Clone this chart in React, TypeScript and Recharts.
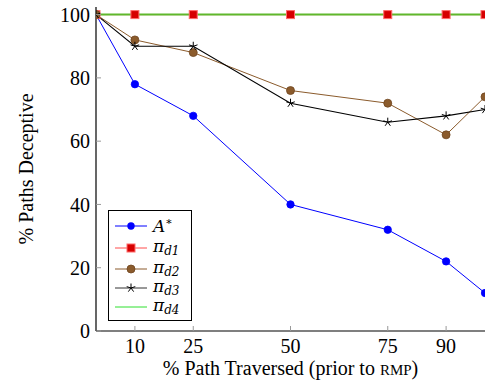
import React from 'react';
import { LineChart, Line, XAxis, YAxis, Legend, Label } from 'recharts';

const X_VALUES = [0, 10, 25, 50, 75, 90, 100];
const A_STAR = [100, 78, 68, 40, 32, 22, 12];
const PI_D1 = [100, 100, 100, 100, 100, 100, 100];
const PI_D2 = [100, 92, 88, 76, 72, 62, 74];
const PI_D3 = [100, 90, 90, 72, 66, 68, 70];
const PI_D4 = [100, 100, 100, 100, 100, 100, 100];
const X_TICKS = [10, 25, 50, 75, 90];
const Y_TICKS = [0, 20, 40, 60, 80, 100];
const X_LABEL = '% Path Traversed (prior to ';
const X_LABEL_SC = 'RMP';
const Y_LABEL = '% Paths Deceptive';

const data = X_VALUES.map((x, i) => ({
  x,
  a: A_STAR[i],
  d1: PI_D1[i],
  d2: PI_D2[i],
  d3: PI_D3[i],
  d4: PI_D4[i],
}));

const FONT = '"Liberation Serif", "Times New Roman", serif';
const MATH_FONT = '"DejaVu Serif", "Liberation Serif", serif';
const FS = 20;
const LFS = 17;
const TICK_LEN = 5;
const TICK_COLOR = '#999';
const X_MARGIN = 8;
const Y_MARGIN = 6;

const BLUE = '#0000ff';
const RED_LINE = '#ff4d4d';
const RED_FILL = '#d60000';
const RED_STROKE = '#ff6a6a';
const BROWN = '#8b5b2c';
const BROWN_DARK = '#6e4520';
const GREEN = '#5fb82c';
const GREEN_LEG = '#2ee02e';

const BottomTick = (p: any) => {
  const { x, y, payload } = p;
  const ay = y - X_MARGIN;
  return (
    <g>
      <line x1={x} x2={x} y1={ay} y2={ay - TICK_LEN} stroke={TICK_COLOR} strokeWidth={1} />
      <text x={x} y={y} dy="0.71em" textAnchor="middle" fontFamily={FONT} fontSize={FS} fill="#000">
        {payload.value}
      </text>
    </g>
  );
};
const TopTick = (p: any) => {
  const { x, y } = p;
  return <line x1={x} x2={x} y1={y} y2={y + TICK_LEN} stroke={TICK_COLOR} strokeWidth={1} />;
};
const LeftTick = (p: any) => {
  const { x, y, payload } = p;
  const ax = x + Y_MARGIN;
  return (
    <g>
      <line x1={ax} x2={ax + TICK_LEN} y1={y} y2={y} stroke={TICK_COLOR} strokeWidth={1} />
      <text x={x} y={y} dy="0.355em" textAnchor="end" fontFamily={FONT} fontSize={FS} fill="#000">
        {payload.value}
      </text>
    </g>
  );
};
const RightTick = (p: any) => {
  const { x, y } = p;
  return <line x1={x} x2={x - TICK_LEN} y1={y} y2={y} stroke={TICK_COLOR} strokeWidth={1} />;
};

const CircleDot = (fill: string, stroke: string, r: number) => (p: any) => {
  const { cx, cy, index } = p;
  if (cx == null || cy == null) return <g key={index} />;
  return <circle key={index} cx={cx} cy={cy} r={r} fill={fill} stroke={stroke} strokeWidth={0.8} />;
};
const SquareDot = (p: any) => {
  const { cx, cy, index } = p;
  if (cx == null || cy == null) return <g key={index} />;
  return <rect key={index} x={cx - 4} y={cy - 4} width={8} height={8} fill={RED_FILL} stroke={RED_STROKE} strokeWidth={1} />;
};
const starPath = (cx: number, cy: number, r: number) => {
  let d = '';
  for (let k = 0; k < 5; k++) {
    const a = (-90 + 72 * k) * (Math.PI / 180);
    d += `M${cx},${cy}L${cx + r * Math.cos(a)},${cy + r * Math.sin(a)}`;
  }
  return d;
};
const StarDot = (p: any) => {
  const { cx, cy, index } = p;
  if (cx == null || cy == null) return <g key={index} />;
  return <path key={index} d={starPath(cx, cy, 4.5)} stroke="#000" strokeWidth={1} fill="none" />;
};

const LegendBox = () => {
  const rows = [16, 38, 59, 78, 97];
  const lx1 = 7, lx2 = 39, mx = 23, tx = 45;
  const Pi = ({ sub, y }: { sub: string; y: number }) => (
    <text x={tx} y={y + 4} fontFamily={MATH_FONT} fontSize={LFS} fill="#000">
      <tspan fontStyle="italic">π</tspan>
      <tspan fontStyle="italic" fontSize={12} dy={3}>{sub}</tspan>
    </text>
  );
  return (
    <div style={{ width: 84, height: 111, boxSizing: 'border-box', border: '1px solid #000', background: '#fff' }}>
      <svg width={82} height={109} style={{ display: 'block' }}>
        <g transform="translate(-1,-1)">
          <line x1={lx1} x2={lx2} y1={rows[0]} y2={rows[0]} stroke={BLUE} strokeWidth={1} />
          <circle cx={mx} cy={rows[0]} r={3.7} fill={BLUE} />
          <text x={tx} y={rows[0] + 6} fontFamily={MATH_FONT} fontSize={LFS} fill="#000">
            <tspan fontStyle="italic">A</tspan>
            <tspan fontSize={11} dy={-7}>∗</tspan>
          </text>
          <line x1={lx1} x2={lx2} y1={rows[1]} y2={rows[1]} stroke={RED_LINE} strokeWidth={1} />
          <rect x={mx - 4} y={rows[1] - 4} width={8} height={8} fill={RED_FILL} stroke={RED_STROKE} />
          <Pi sub="d1" y={rows[1]} />
          <line x1={lx1} x2={lx2} y1={rows[2]} y2={rows[2]} stroke={BROWN} strokeWidth={1} />
          <circle cx={mx} cy={rows[2]} r={4} fill={BROWN} stroke={BROWN_DARK} strokeWidth={0.8} />
          <Pi sub="d2" y={rows[2]} />
          <line x1={lx1} x2={lx2} y1={rows[3]} y2={rows[3]} stroke="#333" strokeWidth={1} />
          <path d={starPath(mx, rows[3], 4.5)} stroke="#000" strokeWidth={1} fill="none" />
          <Pi sub="d3" y={rows[3]} />
          <line x1={lx1} x2={lx2} y1={rows[4]} y2={rows[4]} stroke={GREEN_LEG} strokeWidth={1} />
          <Pi sub="d4" y={rows[4]} />
        </g>
      </svg>
    </div>
  );
};

export default function App() {
  return (
    <div style={{ position: 'absolute', left: 0, top: 0, width: 490, height: 386, background: '#fff' }}>
      <LineChart width={490} height={386} data={data} margin={{ top: 7, right: 5, bottom: 0, left: 0 }}>
        <XAxis
          dataKey="x"
          type="number"
          domain={[0, 100]}
          ticks={X_TICKS}
          allowDataOverflow
          height={55}
          tickSize={0}
          tickMargin={X_MARGIN}
          tickLine={false}
          tick={<BottomTick />}
          axisLine={{ stroke: '#000', strokeWidth: 1.2 }}
          interval={0}
        >
          <Label
            content={(p: any) => {
              const vb = p.viewBox;
              return (
                <text x={vb.x + vb.width / 2} y={vb.y + 44} textAnchor="middle" fontFamily={FONT} fontSize={FS} fill="#000">
                  {X_LABEL}
                  <tspan fontSize={15}>{X_LABEL_SC}</tspan>
                  <tspan>)</tspan>
                </text>
              );
            }}
          />
        </XAxis>
        <XAxis
          xAxisId="top"
          orientation="top"
          dataKey="x"
          type="number"
          domain={[0, 100]}
          ticks={X_TICKS}
          allowDataOverflow
          height={0}
          tickSize={0}
          tickMargin={0}
          tickLine={false}
          tick={<TopTick />}
          axisLine={{ stroke: '#000', strokeWidth: 1.2 }}
          interval={0}
        />
        <YAxis
          type="number"
          domain={[0, 102.4]}
          ticks={Y_TICKS}
          allowDataOverflow
          width={96}
          tickSize={0}
          tickMargin={Y_MARGIN}
          tickLine={false}
          tick={<LeftTick />}
          axisLine={{ stroke: '#000', strokeWidth: 1.2 }}
          interval={0}
        >
          <Label
            content={(p: any) => {
              const vb = p.viewBox;
              const cx = vb.x + 26;
              const cy = vb.y + vb.height / 2;
              return (
                <text x={cx} y={cy} transform={`rotate(-90, ${cx}, ${cy})`} textAnchor="middle" dominantBaseline="central" fontFamily={FONT} fontSize={FS} fill="#000">
                  {Y_LABEL}
                </text>
              );
            }}
          />
        </YAxis>
        <YAxis
          yAxisId="right"
          orientation="right"
          type="number"
          domain={[0, 102.4]}
          ticks={Y_TICKS}
          allowDataOverflow
          width={0}
          tickSize={0}
          tickMargin={0}
          tickLine={false}
          tick={<RightTick />}
          axisLine={{ stroke: '#000', strokeWidth: 1.2 }}
          interval={0}
        />
        <Legend
          layout="horizontal"
          verticalAlign="middle"
          align="center"
          content={() => <LegendBox />}
          wrapperStyle={{ left: 108, top: 210, width: 84, height: 111 }}
        />
        <Line dataKey="a" stroke={BLUE} strokeWidth={1} dot={CircleDot(BLUE, BLUE, 3.7)} activeDot={false} isAnimationActive={false} />
        <Line dataKey="d1" stroke={RED_LINE} strokeWidth={1} dot={false} activeDot={false} isAnimationActive={false} />
        <Line dataKey="d4" stroke={GREEN} strokeWidth={2} dot={false} activeDot={false} isAnimationActive={false} />
        <Line dataKey="d1" stroke="none" dot={SquareDot} activeDot={false} isAnimationActive={false} legendType="none" />
        <Line dataKey="d2" stroke={BROWN} strokeWidth={1} dot={CircleDot(BROWN, BROWN_DARK, 4)} activeDot={false} isAnimationActive={false} />
        <Line dataKey="d3" stroke="#000" strokeWidth={1.1} dot={StarDot} activeDot={false} isAnimationActive={false} />
      </LineChart>
    </div>
  );
}
